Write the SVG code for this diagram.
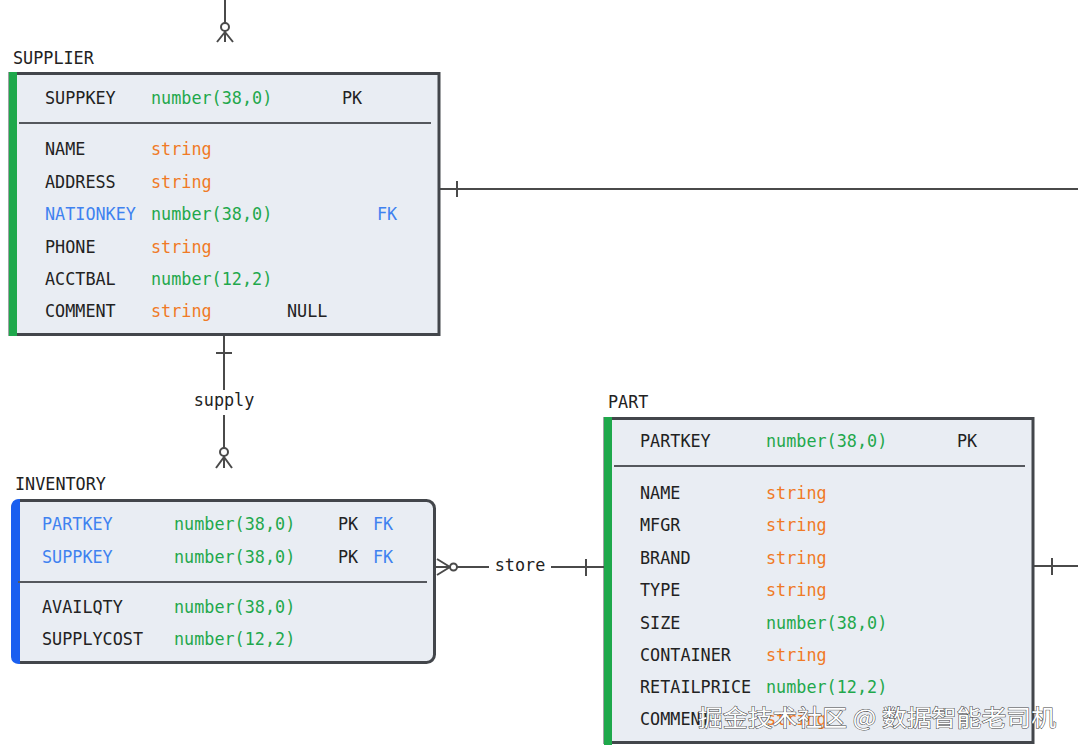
<svg xmlns="http://www.w3.org/2000/svg" width="1078" height="752" viewBox="0 0 1078 752">
<style>
text{font-family:"DejaVu Sans Mono","Liberation Mono",monospace;font-size:16.8px;fill:#222}
.t{fill:#1fa84c}.s{fill:#f07a26}.b{fill:#3f82f0}
.box{fill:#e9edf3;stroke:#43464b;stroke-width:3}
.sep{stroke:#55585d;stroke-width:2}
.ln{stroke:#4a4a4a;stroke-width:2;fill:none}
.wm{font-family:"Noto Sans CJK SC",sans-serif;font-size:23px;fill:#fff;stroke:#444;stroke-width:1px;paint-order:stroke}
</style>
<rect width="1078" height="752" fill="#fff"/>
<g id="connectors">
  <line class="ln" x1="225" y1="0" x2="225" y2="23"/>
  <circle class="ln" cx="225" cy="27" r="4" fill="#fff"/>
  <path class="ln" d="M225 31V42M225 32L217 42M225 32L233 42"/>
  <line class="ln" x1="439" y1="189" x2="1078" y2="189"/>
  <line class="ln" x1="457" y1="181" x2="457" y2="197"/>
  <line class="ln" x1="224" y1="335" x2="224" y2="390"/>
  <line class="ln" x1="216" y1="353" x2="232" y2="353"/>
  <text x="224" y="406" text-anchor="middle">supply</text>
  <line class="ln" x1="224" y1="415" x2="224" y2="448"/>
  <circle class="ln" cx="224" cy="452" r="4" fill="#fff"/>
  <path class="ln" d="M224 456V468M224 457L216 468M224 457L232 468"/>
  <path class="ln" d="M436 567H450M437 559L450 567M437 575L450 567"/>
  <circle class="ln" cx="453.5" cy="567" r="3.5" fill="#fff"/>
  <line class="ln" x1="457" y1="567" x2="489" y2="567"/>
  <text x="520" y="571" text-anchor="middle">store</text>
  <line class="ln" x1="551" y1="567" x2="604" y2="567"/>
  <line class="ln" x1="586" y1="559" x2="586" y2="576"/>
  <line class="ln" x1="1033" y1="566" x2="1078" y2="566"/>
  <line class="ln" x1="1052" y1="558" x2="1052" y2="575"/>
</g>
<g id="supplier">
  <text x="13" y="64">SUPPLIER</text>
  <rect class="box" x="10" y="73.5" width="429" height="261"/>
  <rect x="9" y="72" width="8" height="264" fill="#1ea84b"/>
  <line class="sep" x1="19" y1="123" x2="431" y2="123"/>
  <text x="45" y="104">SUPPKEY</text><text class="t" x="151" y="104">number(38,0)</text><text x="342" y="104">PK</text>
  <text x="45" y="155">NAME</text><text class="s" x="151" y="155">string</text>
  <text x="45" y="188">ADDRESS</text><text class="s" x="151" y="188">string</text>
  <text class="b" x="45" y="220">NATIONKEY</text><text class="t" x="151" y="220">number(38,0)</text><text class="b" x="377" y="220">FK</text>
  <text x="45" y="253">PHONE</text><text class="s" x="151" y="253">string</text>
  <text x="45" y="285">ACCTBAL</text><text class="t" x="151" y="285">number(12,2)</text>
  <text x="45" y="317">COMMENT</text><text class="s" x="151" y="317">string</text><text x="287" y="317">NULL</text>
</g>
<g id="inventory">
  <text x="15" y="490">INVENTORY</text>
  <rect class="box" x="12.5" y="500.5" width="422" height="162" rx="8"/>
  <path d="M20 499H19.5Q11 499 11 508V656Q11 664 19.5 664H20Z" fill="#1a5ff0"/>
  <line class="sep" x1="18" y1="582" x2="427" y2="582"/>
  <text class="b" x="42" y="530">PARTKEY</text><text class="t" x="174" y="530">number(38,0)</text><text x="338" y="530">PK</text><text class="b" x="373" y="530">FK</text>
  <text class="b" x="42" y="563">SUPPKEY</text><text class="t" x="174" y="563">number(38,0)</text><text x="338" y="563">PK</text><text class="b" x="373" y="563">FK</text>
  <text x="42" y="613">AVAILQTY</text><text class="t" x="174" y="613">number(38,0)</text>
  <text x="42" y="645">SUPPLYCOST</text><text class="t" x="174" y="645">number(12,2)</text>
</g>
<g id="part">
  <text x="608" y="408">PART</text>
  <rect class="box" x="605" y="418.5" width="428" height="324"/>
  <rect x="604" y="417" width="8" height="328" fill="#1ea84b"/>
  <line class="sep" x1="614" y1="466" x2="1025" y2="466"/>
  <text x="640" y="447">PARTKEY</text><text class="t" x="766" y="447">number(38,0)</text><text x="957" y="447">PK</text>
  <text x="640" y="499">NAME</text><text class="s" x="766" y="499">string</text>
  <text x="640" y="531">MFGR</text><text class="s" x="766" y="531">string</text>
  <text x="640" y="564">BRAND</text><text class="s" x="766" y="564">string</text>
  <text x="640" y="596">TYPE</text><text class="s" x="766" y="596">string</text>
  <text x="640" y="629">SIZE</text><text class="t" x="766" y="629">number(38,0)</text>
  <text x="640" y="661">CONTAINER</text><text class="s" x="766" y="661">string</text>
  <text x="640" y="693">RETAILPRICE</text><text class="t" x="766" y="693">number(12,2)</text>
  <text x="640" y="725">COMMENT</text><text class="s" x="766" y="725">string</text>
</g>
<text class="wm" x="698" y="726" textLength="358" lengthAdjust="spacingAndGlyphs">掘金技术社区 @ 数据智能老司机</text>
</svg>
